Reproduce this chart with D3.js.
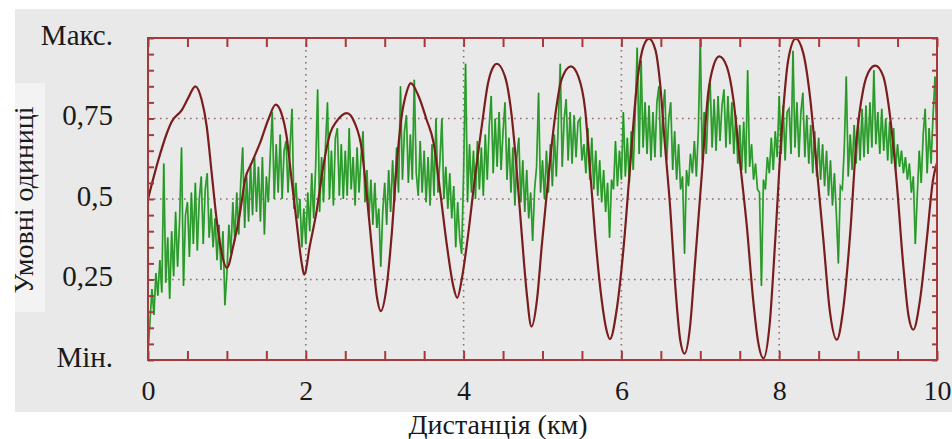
<!DOCTYPE html>
<html lang="uk">
<head>
<meta charset="utf-8">
<script src="https://cdn.jsdelivr.net/npm/d3@7"></script>
<style>
  html, body { margin: 0; padding: 0; background: #ffffff; }
  svg { display: block; }
</style>
</head>
<body>
<svg id="chart" width="952" height="439"></svg>
<script>
// Axis definitions
const xTickValues = [0, 2, 4, 6, 8, 10];
const xTickLabels = ["0", "2", "4", "6", "8", "10"];
const yTickValues = [0, 0.25, 0.5, 0.75, 1];
const yTickLabels = ["Мін.", "0,25", "0,5", "0,75", "Макс."];
const xGridValues = [2, 4, 6, 8];
const yGridValues = [0.25, 0.5, 0.75];
const xTitle = "Дистанція (км)";
const yTitle = "Умовні одиниці";

// Smooth model curve: distance (km) and level
const modelKm = [
  0.00, 0.13, 0.24, 0.30, 0.43, 0.51, 0.60, 0.68, 0.744, 0.807, 0.87, 0.934,
  1.00, 1.08, 1.166, 1.23, 1.314, 1.42, 1.525, 1.618, 1.69, 1.757, 1.82, 1.885, 1.948,
  1.98, 2.05, 2.14, 2.22, 2.31, 2.39, 2.52, 2.62, 2.71, 2.77, 2.835, 2.90,
  2.95, 3.025, 3.09, 3.15, 3.215, 3.28, 3.33, 3.43, 3.53, 3.62, 3.70, 3.79, 3.87,
  3.92, 3.976, 4.06, 4.145, 4.23, 4.31, 4.38, 4.42, 4.525, 4.61, 4.67, 4.736, 4.80,
  4.86, 4.93, 4.99, 5.075, 5.16, 5.24, 5.36, 5.455, 5.54, 5.60, 5.665, 5.75, 5.81,
  5.855, 5.94, 6.025, 6.11, 6.19, 6.28, 6.35, 6.43, 6.49, 6.55, 6.62, 6.68, 6.745,
  6.80, 6.87, 6.93, 7.02, 7.10, 7.165, 7.24, 7.335, 7.42, 7.50, 7.59, 7.67, 7.735,
  7.80, 7.88, 7.95, 8.03, 8.115, 8.21, 8.305, 8.39, 8.475, 8.56, 8.64,
  8.73, 8.81, 8.90, 8.98, 9.065, 9.15, 9.22, 9.32, 9.40, 9.49, 9.57, 9.64,
  9.70, 9.785, 9.87, 9.95, 10.0
];
const modelLevel = [
  0.50, 0.62, 0.705, 0.74, 0.777, 0.814, 0.85, 0.808, 0.726, 0.581, 0.436, 0.332,
  0.286, 0.353, 0.457, 0.56, 0.612, 0.674, 0.747, 0.793, 0.767, 0.694, 0.56, 0.425, 0.301,
  0.265, 0.353, 0.467, 0.60, 0.705, 0.741, 0.767, 0.736, 0.653, 0.519, 0.353, 0.198,
  0.152, 0.229, 0.394, 0.60, 0.757, 0.834, 0.86, 0.819, 0.747, 0.674, 0.529, 0.353, 0.229,
  0.193, 0.25, 0.394, 0.57, 0.726, 0.86, 0.912, 0.92, 0.88, 0.757, 0.60, 0.394, 0.208,
  0.104, 0.187, 0.353, 0.57, 0.757, 0.87, 0.912, 0.88, 0.778, 0.60, 0.394, 0.187, 0.094,
  0.065, 0.156, 0.342, 0.60, 0.84, 0.974, 0.998, 0.964, 0.86, 0.674, 0.467, 0.239, 0.063,
  0.02, 0.104, 0.291, 0.58, 0.829, 0.912, 0.943, 0.912, 0.808, 0.622, 0.415, 0.187, 0.053,
  0.005, 0.114, 0.373, 0.705, 0.933, 0.998, 0.953, 0.819, 0.60, 0.373, 0.156,
  0.063, 0.156, 0.394, 0.684, 0.84, 0.902, 0.914, 0.88, 0.767, 0.55, 0.301, 0.136,
  0.094, 0.187, 0.373, 0.56, 0.612
];

// Measured signal, one sample every 0.025 km from 0 to 10 km
const measuredStepKm = 0.025;
const measuredLevel = [
  // 0 – 1 km
  0.02, 0.12, 0.22, 0.14, 0.27, 0.20, 0.31, 0.21, 0.61, 0.24, 0.38, 0.19, 0.40, 0.26, 0.46, 0.29, 0.43, 0.66, 0.23, 0.45,
  0.49, 0.32, 0.52, 0.36, 0.55, 0.34, 0.50, 0.57, 0.36, 0.53, 0.58, 0.38, 0.47, 0.35, 0.44, 0.31, 0.42, 0.28, 0.40, 0.17,
  // 1 – 2 km
  0.27, 0.42, 0.33, 0.49, 0.37, 0.52, 0.39, 0.55, 0.66, 0.41, 0.57, 0.43, 0.61, 0.45, 0.63, 0.46, 0.60, 0.43, 0.63, 0.39,
  0.57, 0.49, 0.64, 0.77, 0.50, 0.67, 0.52, 0.70, 0.50, 0.65, 0.68, 0.52, 0.66, 0.78, 0.47, 0.55, 0.44, 0.50, 0.35, 0.47,
  // 2 – 3 km
  0.36, 0.52, 0.40, 0.58, 0.44, 0.60, 0.84, 0.46, 0.63, 0.49, 0.67, 0.80, 0.50, 0.65, 0.48, 0.69, 0.72, 0.51, 0.67, 0.50,
  0.65, 0.51, 0.72, 0.53, 0.63, 0.48, 0.66, 0.52, 0.63, 0.71, 0.49, 0.59, 0.44, 0.56, 0.42, 0.55, 0.41, 0.47, 0.29, 0.46,
  // 3 – 4 km
  0.55, 0.42, 0.59, 0.46, 0.62, 0.49, 0.66, 0.52, 0.85, 0.56, 0.71, 0.76, 0.55, 0.70, 0.56, 0.87, 0.58, 0.51, 0.68, 0.52,
  0.65, 0.49, 0.63, 0.48, 0.67, 0.51, 0.75, 0.52, 0.62, 0.75, 0.50, 0.60, 0.47, 0.58, 0.44, 0.54, 0.35, 0.49, 0.38, 0.33,
  // 4 – 5 km
  0.58, 0.92, 0.49, 0.67, 0.52, 0.65, 0.50, 0.68, 0.53, 0.66, 0.51, 0.70, 0.56, 0.73, 0.82, 0.58, 0.75, 0.60, 0.77, 0.59,
  0.71, 0.80, 0.56, 0.69, 0.52, 0.66, 0.48, 0.63, 0.69, 0.49, 0.62, 0.46, 0.59, 0.44, 0.52, 0.37, 0.53, 0.60, 0.83, 0.52,
  // 5 – 6 km
  0.62, 0.50, 0.65, 0.52, 0.67, 0.54, 0.70, 0.57, 0.73, 0.92, 0.60, 0.75, 0.81, 0.62, 0.77, 0.61, 0.76, 0.63, 0.74, 0.75,
  0.62, 0.67, 0.58, 0.72, 0.56, 0.69, 0.53, 0.65, 0.51, 0.62, 0.49, 0.59, 0.46, 0.55, 0.38, 0.56, 0.53, 0.68, 0.54, 0.65,
  // 6 – 7 km
  0.56, 0.77, 0.57, 0.69, 0.55, 0.71, 0.59, 0.77, 0.97, 0.64, 0.93, 0.66, 0.80, 0.64, 0.79, 0.62, 0.77, 0.63, 0.80, 0.85,
  0.63, 0.77, 0.84, 0.62, 0.75, 0.80, 0.59, 0.71, 0.56, 0.67, 0.53, 0.57, 0.33, 0.59, 0.54, 0.64, 0.58, 0.68, 0.57, 0.71,
  // 7 – 8 km
  1.00, 0.62, 0.77, 0.64, 0.79, 0.86, 0.66, 0.81, 0.65, 0.82, 0.68, 0.79, 0.84, 0.66, 0.82, 0.67, 0.80, 0.64, 0.76, 0.61,
  0.73, 0.59, 0.74, 0.58, 0.90, 0.60, 0.67, 0.56, 0.61, 0.53, 0.52, 0.23, 0.56, 0.53, 0.63, 0.58, 0.69, 0.59, 0.71, 0.63,
  // 8 – 9 km
  0.82, 0.64, 0.79, 0.62, 0.77, 0.78, 0.64, 0.96, 0.66, 0.80, 0.63, 0.77, 0.83, 0.63, 0.76, 0.61, 0.73, 0.58, 0.71, 0.57,
  0.69, 0.56, 0.67, 0.54, 0.65, 0.51, 0.62, 0.48, 0.58, 0.45, 0.30, 0.54, 0.53, 0.66, 0.88, 0.57, 0.70, 0.59, 0.73, 0.61,
  // 9 – 10 km
  0.75, 0.62, 0.78, 0.63, 0.79, 0.64, 0.80, 0.66, 0.90, 0.67, 0.77, 0.64, 0.78, 0.65, 0.75, 0.62, 0.74, 0.61, 0.72, 0.59,
  0.67, 0.60, 0.65, 0.58, 0.63, 0.56, 0.61, 0.52, 0.57, 0.36, 0.51, 0.65, 0.55, 0.70, 0.78, 0.58, 0.72, 0.61, 0.76, 0.88,
  0.66
];

// Layout
const W = 952, H = 439;
const plot = { left: 148, top: 38, right: 937, bottom: 360 };
const frameColor = "#a63a3a";
const gridColor = "#8f6e6e";
const serif = "'Liberation Serif', 'Times New Roman', serif";

const svg = d3.select("#chart");

// Grey panel behind the chart and a lighter strip behind the vertical title
svg.append("rect").attr("x", 15).attr("y", 9).attr("width", W - 15).attr("height", 403).attr("fill", "#e9e9e9");
svg.append("rect").attr("x", 15).attr("y", 83).attr("width", 30).attr("height", 229).attr("fill", "#f3f3f3");

const x = d3.scaleLinear().domain([0, 10]).range([plot.left, plot.right]);
const y = d3.scaleLinear().domain([0, 1]).range([plot.bottom, plot.top]);

// Dotted grid
const grid = svg.append("g").attr("stroke", gridColor).attr("stroke-width", 1.6)
  .attr("stroke-dasharray", "1.6,4.4").attr("fill", "none");
grid.selectAll("line.h").data(yGridValues).join("line").attr("class", "h")
  .attr("x1", plot.left).attr("x2", plot.right)
  .attr("y1", d => y(d)).attr("y2", d => y(d));
grid.selectAll("line.v").data(xGridValues).join("line").attr("class", "v")
  .attr("y1", plot.top).attr("y2", plot.bottom)
  .attr("x1", d => x(d)).attr("x2", d => x(d));

// Clip for the data lines
svg.append("clipPath").attr("id", "plotClip").append("rect")
  .attr("x", plot.left).attr("y", plot.top - 1)
  .attr("width", plot.right - plot.left).attr("height", plot.bottom - plot.top + 2);

// Measured signal (green): a bright stroke with a darker core
const measured = measuredLevel.map((v, i) => [i * measuredStepKm, v]);
const measuredLine = d3.line().x(d => x(d[0])).y(d => y(d[1]));
svg.append("path").datum(measured)
  .attr("clip-path", "url(#plotClip)")
  .attr("fill", "none").attr("stroke", "#3fb23f").attr("stroke-width", 1.8)
  .attr("d", measuredLine);
svg.append("path").datum(measured)
  .attr("clip-path", "url(#plotClip)")
  .attr("fill", "none").attr("stroke", "#1d7d1d").attr("stroke-width", 0.7)
  .attr("stroke-opacity", 0.8)
  .attr("d", measuredLine);

// Model curve (dark red)
const model = modelKm.map((k, i) => [k, modelLevel[i]]);
const modelLine = d3.line().x(d => x(d[0])).y(d => y(d[1])).curve(d3.curveMonotoneX);
svg.append("path").datum(model)
  .attr("clip-path", "url(#plotClip)")
  .attr("fill", "none").attr("stroke", "#7a1d1d").attr("stroke-width", 2.2)
  .attr("d", modelLine);

// Inward minor ticks on all four sides
const xMinor = d3.range(0, 10.001, 0.5);
const yMinor = d3.range(0, 1.0001, 0.05);
function styleTicks(g) {
  g.select(".domain").remove();
  g.selectAll(".tick line").attr("stroke", frameColor).attr("stroke-width", 2);
  g.selectAll(".tick text").remove();
}
svg.append("g").attr("transform", `translate(0,${plot.top})`)
  .call(d3.axisTop(x).tickValues(xMinor).tickSize(-9)).call(styleTicks);
svg.append("g").attr("transform", `translate(0,${plot.bottom})`)
  .call(d3.axisBottom(x).tickValues(xMinor).tickSize(-9)).call(styleTicks);
svg.append("g").attr("transform", `translate(${plot.left},0)`)
  .call(d3.axisLeft(y).tickValues(yMinor).tickSize(-6)).call(styleTicks);
svg.append("g").attr("transform", `translate(${plot.right},0)`)
  .call(d3.axisRight(y).tickValues(yMinor).tickSize(-5)).call(styleTicks);

// Frame
svg.append("rect")
  .attr("x", plot.left).attr("y", plot.top)
  .attr("width", plot.right - plot.left).attr("height", plot.bottom - plot.top)
  .attr("fill", "none").attr("stroke", frameColor).attr("stroke-width", 2);

// Tick labels
const xLabelAxis = svg.append("g").attr("transform", `translate(0,${plot.bottom})`)
  .call(d3.axisBottom(x).tickValues(xTickValues).tickSize(0).tickPadding(20)
    .tickFormat((d, i) => xTickLabels[i]));
xLabelAxis.select(".domain").remove();
xLabelAxis.selectAll("text")
  .style("font-family", serif).style("font-size", "28px").attr("fill", "#1a1a1a");

const yLabelAxis = svg.append("g").attr("transform", `translate(${plot.left},0)`)
  .call(d3.axisLeft(y).tickValues(yTickValues).tickSize(0).tickPadding(35)
    .tickFormat((d, i) => yTickLabels[i]));
yLabelAxis.select(".domain").remove();
yLabelAxis.selectAll("text")
  .style("font-family", serif).style("font-size", "29px").attr("fill", "#1a1a1a")
  .attr("dy", "0.22em");

// Axis titles
svg.append("text").attr("x", 498).attr("y", 434).attr("text-anchor", "middle")
  .style("font-family", serif).style("font-size", "28px").attr("fill", "#1a1a1a")
  .text(xTitle);
svg.append("text").attr("transform", "translate(33,200) rotate(-90)")
  .attr("text-anchor", "middle")
  .style("font-family", serif).style("font-size", "28px").attr("fill", "#1a1a1a")
  .text(yTitle);
</script>
</body>
</html>
